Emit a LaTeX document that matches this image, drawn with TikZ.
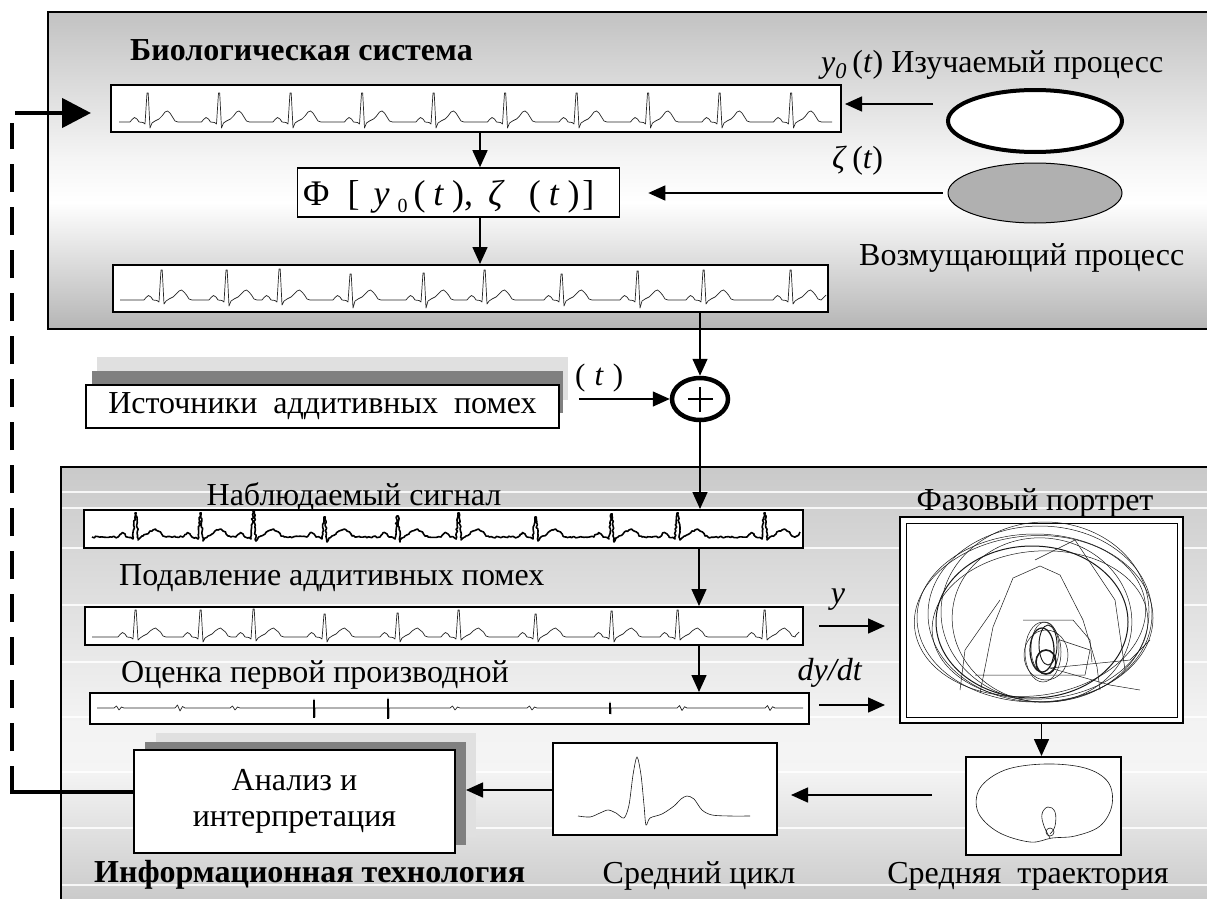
\documentclass[tikz,border=0pt]{standalone}
\usepackage{fontspec}
\setmainfont{Liberation Serif}
\usetikzlibrary{arrows.meta,decorations.pathmorphing,shapes.geometric}

\pgfdeclareverticalshading{topsh}{100bp}{color(0bp)=(black!29); color(25bp)=(black!29); color(45bp)=(white); color(52bp)=(white!96!black); color(75bp)=(black!24); color(100bp)=(black!24)}
\pgfdeclareverticalshading{botsh}{100bp}{color(0bp)=(black!22); color(25bp)=(black!22); color(41bp)=(black!4); color(47bp)=(black!5); color(75bp)=(black!21); color(100bp)=(black!21)}

% one heart beat: X, baseline B, R height a, S depth s, T height t
\newcommand\ecgbeat[5]{%
 -- ({#1-17},#2) -- ({#1-15},{#2-2.5}) -- ({#1-12.5},{#2-4.5}) -- ({#1-10},{#2-3}) -- ({#1-8},#2) -- ({#1-4},{#2+0.5}) -- ({#1-2},{#2+2}) -- (#1,{#2-#3}) -- ({#1+1.2},{#2-#3}) -- ({#1+3},{#2+#4}) -- ({#1+5},{#2+1}) -- ({#1+8},{#2-1}) -- ({#1+12},{#2-3}) -- ({#1+15},{#2-6}) -- ({#1+18},{#2-#5+1}) -- ({#1+20.5},{#2-#5}) -- ({#1+23},{#2-#5+2}) -- ({#1+25.5},{#2-5}) -- ({#1+28},{#2-1}) -- ({#1+31},#2)}
\newcommand\ecgwig[3]{%
 -- ({#1-5},#2) -- ({#1-2.5},{#2-#3}) -- (#1,{#2+#3}) -- ({#1+2.5},{#2-#3/2}) -- ({#1+5},#2)}
\newcommand\ecgspk[3]{%
 -- (#1,#2) -- (#1,{#2-#3}) -- ({#1+1},{#2+#3}) -- ({#1+1},#2)}

\tikzset{
 strip/.style={draw=black, line width=2pt, fill=white, inner sep=0pt},
 ecg/.style={line width=0.7pt, black!85, line join=round},
 conn/.style={line width=1.5pt, -{Triangle[length=17pt,width=15pt]}},
 lbl/.style={inner sep=0pt, font=\fontsize{32}{36}\selectfont},
 blbl/.style={inner sep=0pt, font=\fontsize{32}{36}\selectfont\bfseries},
 fb/.style={line width=4.5pt, black},
 pp/.style={line width=0.5pt, black!90},
 shad1/.style={fill=black!12},
 shad2/.style={fill=black!50},
 band/.style={white, line width=1.2pt, opacity=0.85}
}

\begin{document}
\begin{tikzpicture}[x=1pt, y=-1pt]
\useasboundingbox (0,0) rectangle (1207,899);
\clip (0,0) rectangle (1207,899);
\fill[white] (0,0) rectangle (1207,899);

% ---------- panels ----------
\path[shading=topsh, draw=black, line width=1.6pt] (48,12) rectangle (1215,329);
\path[shading=botsh, draw=black, line width=1.6pt] (61,467) rectangle (1215,910);
\foreach \yy in {492,508,548,605,662,717,772,828,885}
  \draw[band] (62,\yy) -- (1207,\yy);

% ---------- top panel ----------
\node[blbl, anchor=base west] (t1) at (130,60) {Биологическая система};
\node[strip, minimum width=730pt, minimum height=47pt] (s1) at (476,108.5) {};
\draw[ecg] (119,122)
  \ecgbeat{147}{122}{29}{6}{11} \ecgbeat{218.5}{122}{29}{6}{11}
  \ecgbeat{290}{122}{29}{6}{11} \ecgbeat{361.5}{122}{29}{6}{11}
  \ecgbeat{433}{122}{29}{6}{11} \ecgbeat{504.5}{122}{29}{6}{11}
  \ecgbeat{576}{122}{29}{6}{11} \ecgbeat{647.5}{122}{29}{6}{11}
  \ecgbeat{719}{122}{29}{6}{11} \ecgbeat{790.5}{122}{29}{6}{11} -- (832,122);

\node[strip, line width=1.6pt, minimum width=322pt, minimum height=49pt] (f) at (458.5,192.5) {};
\node[inner sep=0pt, font=\fontsize{36}{40}\selectfont, anchor=base west] (ftxt) at (303,205)
  {Φ\hspace{18pt}[\hspace{14pt}\textit{y}\hspace{8pt}\raisebox{-7pt}{\fontsize{20}{20}\selectfont 0}\hspace{6pt}(\hspace{8pt}\textit{t}\hspace{8pt}),\hspace{15pt}\textit{ζ}\hspace{24pt}(\hspace{8pt}\textit{t}\hspace{8pt})\hspace{3pt}]};

\node[strip, minimum width=715pt, minimum height=47pt] (s2) at (470.5,288.5) {};
\draw[ecg] (120,300)
  \ecgbeat{161}{300}{30}{4}{10} \ecgbeat{226}{300}{30}{6}{10}
  \ecgbeat{279}{300}{31}{5}{10} \ecgbeat{350}{300}{26}{8}{10}
  \ecgbeat{423}{300}{27}{8}{10} \ecgbeat{484}{300}{30}{4}{10}
  \ecgbeat{561}{300}{26}{6}{10} \ecgbeat{637}{300}{29}{8}{10}
  \ecgbeat{703}{300}{30}{4}{10} \ecgbeat{790}{300}{30}{4}{10} -- (823,298) -- (826,295);

\node[ellipse, draw=black, line width=4pt, fill=white, minimum width=174pt, minimum height=62pt, inner sep=0pt] (e1) at (1035,121) {};
\node[ellipse, draw=black, line width=1pt, fill=black!31, minimum width=174pt, minimum height=60pt, inner sep=0pt] (e2) at (1035,193) {};

\node[lbl, anchor=base west] (ly0) at (821,72) {\textit{y}\textsubscript{\textit{0}}\,(\textit{t}) Изучаемый процесс};
\node[lbl, anchor=base west] (lzeta) at (832,168) {\textit{ζ}\,(\textit{t})};
\node[lbl, anchor=base west] (lvoz) at (859,265) {Возмущающий процесс};

\draw[conn] (e1.west |- 0,104) ++(-13,0) coordinate (a1s) -- ([xshift=3pt]s1.east |- a1s);
\draw[conn, shorten <=5pt] (e2.west) -- ([xshift=28pt]f.east |- e2.west);
\draw[conn] (480,0 |- s1.south) -- (480,0 |- f.north);
\draw[conn] (480,0 |- f.south) -- (480,0 |- s2.north);

% ---------- noise sources ----------
\fill[shad1] (97,357) rectangle (568,400);
\fill[shad2] (92,371) rectangle (563,413);
\node[strip, line width=1.6pt, minimum width=473pt, minimum height=43pt, lbl] (src) at (322.5,406.5) {Источники\ \ аддитивных\ \ помех};
\node[ellipse, draw=black, line width=4.5pt, fill=white, minimum width=56pt, minimum height=42pt, inner sep=0pt] (ad) at (700,399) {};
\draw[line width=1.8pt] ([xshift=-12pt]ad.center) -- ([xshift=13pt]ad.center);
\draw[line width=1.8pt] ([yshift=12pt]ad.center) -- ([yshift=-13pt]ad.center);
\node[inner sep=0pt, font=\fontsize{31}{34}\selectfont, anchor=base west] (lt) at (575,385) {(\hspace{9pt}\textit{t}\hspace{9pt})};
\draw[conn, shorten <=19pt] (src.east |- ad.west) -- (ad.west);
\draw[conn] (700,0 |- s2.south) -- (ad.north);

% ---------- bottom panel ----------
\node[lbl, anchor=base] (lnab) at (354,505) {Наблюдаемый сигнал};
\node[strip, minimum width=719pt, minimum height=38pt] (s3) at (443.5,529) {};
\draw[ecg, line width=1.6pt, black, decorate, decoration={random steps, segment length=2pt, amplitude=0.9pt}] (92,537)
  \ecgbeat{135}{537}{24}{3}{8} \ecgbeat{200}{537}{24}{4}{8}
  \ecgbeat{253}{537}{26}{4}{8} \ecgbeat{324}{537}{20}{5}{8}
  \ecgbeat{397}{537}{21}{5}{8} \ecgbeat{458}{537}{24}{3}{8}
  \ecgbeat{535}{537}{20}{4}{8} \ecgbeat{611}{537}{23}{5}{8}
  \ecgbeat{677}{537}{24}{3}{8} \ecgbeat{764}{537}{24}{3}{8} -- (797,536) -- (800,532);
\draw[conn] (ad.south) -- (ad.south |- s3.north);

\node[lbl, anchor=base west] (lpod) at (119,585) {Подавление аддитивных помех};
\node[strip, minimum width=718pt, minimum height=38pt] (s4) at (444,626) {};
\draw[ecg] (92,637)
  \ecgbeat{135}{637}{27}{3}{9} \ecgbeat{200}{637}{27}{5}{9}
  \ecgbeat{253}{637}{28}{4}{9} \ecgbeat{324}{637}{23}{5}{9}
  \ecgbeat{397}{637}{24}{5}{9} \ecgbeat{458}{637}{27}{3}{9}
  \ecgbeat{535}{637}{23}{5}{9} \ecgbeat{611}{637}{26}{5}{9}
  \ecgbeat{677}{637}{27}{3}{9} \ecgbeat{764}{637}{27}{3}{9} -- (796,635) -- (799,632);
\draw[conn] (699,0 |- s3.south) -- (699,0 |- s4.north);

\node[lbl, anchor=base west] (locen) at (121,682) {Оценка первой производной};
\node[strip, minimum width=719pt, minimum height=31pt] (s5) at (449.5,708.5) {};
\draw[ecg, line width=0.7pt] (97,708)
  \ecgwig{119}{708}{2} \ecgwig{180}{708}{3} \ecgwig{235}{708}{2}
  \ecgspk{314}{708}{9} \ecgspk{388}{708}{10} \ecgwig{455}{708}{2}
  \ecgwig{532}{708}{2} \ecgspk{610}{708}{6} \ecgwig{682}{708}{2.5}
  \ecgwig{770}{708}{2.5} -- (803,708);
\draw[line width=2pt] (314,700) -- (314,718) (388,699) -- (388,719) (610,703) -- (610,714);
\draw[conn] (699,0 |- s4.south) -- (699,0 |- s5.north);

% phase portrait
\node[lbl, anchor=base] (lph) at (1035,510) {Фазовый портрет};
\node[strip, minimum width=283pt, minimum height=206pt] (ph) at (1041.5,620) {};
\draw[line width=0.8pt] (906,523) rectangle (1177,717);
\begin{scope}
\draw[pp] (1035,618) ellipse[x radius=118, y radius=84];
\draw[pp] (1040,614) ellipse[x radius=112, y radius=88];
\draw[pp, line width=1pt] (1032,622) ellipse[x radius=96, y radius=76];
\draw[pp] (1045,612) ellipse[x radius=104, y radius=90];
\draw[pp, rotate around={6:(1030,616)}] (1030,616) ellipse[x radius=116, y radius=80];
\draw[pp, rotate around={-8:(1042,620)}] (1042,620) ellipse[x radius=90, y radius=82];
\draw[pp, rotate around={4:(1040,625)}] (1040,625) ellipse[x radius=108, y radius=74];
\draw[pp] (1045,648) ellipse[x radius=14, y radius=26];
\draw[pp] (1043,652) ellipse[x radius=18, y radius=30];
\draw[pp, line width=0.9pt] (1048,645) ellipse[x radius=9, y radius=20];
\draw[pp] (1046,655) ellipse[x radius=22, y radius=25];
\draw[pp, line width=1.6pt] (1046,662) ellipse[x radius=10, y radius=12];
\draw[pp, line width=1.2pt] (1042,650) ellipse[x radius=12, y radius=22];
\draw[pp] (980,693) -- (993,627) -- (1013,578) -- (1040,566) -- (1060,575) -- (1083,620) -- (1097,667) -- (1100,690);
\draw[pp] (975,675) -- (1085,675) -- (1090,650) -- (1060,640);
\draw[pp] (1023,620) -- (1073,620) -- (1090,640) -- (1092,662);
\draw[pp] (1050,668) -- (1110,685) -- (1140,690);
\draw[pp] (1050,668) -- (1130,660) -- (1150,640);
\draw[pp] (1035,560) -- (1075,540) -- (1115,600) -- (1125,670);
\draw[pp] (960,690) -- (965,650) -- (1000,600);
\end{scope}
\draw[conn] (819,0 |- s4.east) coordinate (ya) -- (885,0 |- ya);
\draw[conn] (819,705) coordinate (da) -- (885,705);
\node[lbl, anchor=base] (ly) at (838,603) {\textit{y}};
\node[lbl, anchor=base] (ldy) at (830,680) {\textit{dy/dt}};

% average trajectory
\node[strip, minimum width=155pt, minimum height=98pt] (tr) at (1043.5,806) {};
\draw[pp, line width=0.6pt] plot[smooth cycle, tension=0.6] coordinates {(1052,838) (1075,836) (1100,826) (1112,805) (1108,782) (1085,768) (1045,764) (1005,770) (980,788) (978,812) (998,832) (1030,842)};
\draw[pp, line width=0.6pt] plot[smooth, tension=0.7] coordinates {(1050,838) (1044,826) (1042,814) (1048,807) (1055,812) (1055,826) (1050,834)};
\draw[pp, line width=0.6pt] (1050,832) circle[radius=4];
\draw[conn] (ph.south) -- (ph.south |- tr.north);
\node[lbl, anchor=base] (ltr) at (1028,883) {Средняя\ \ траектория};

% average cycle
\node[strip, minimum width=224pt, minimum height=92pt] (cy) at (665,789) {};
\draw[pp, line width=0.6pt] plot[smooth, tension=0.5] coordinates {(578,816) (590,817) (600,813) (608,810) (616,813) (624,818) (629,805) (633,775) (637,757) (641,775) (644,805) (646,825) (650,818) (662,814) (674,806) (681,799) (687,796) (694,799) (702,810) (712,815) (730,816) (750,816)};
\node[lbl, anchor=base] (lcy) at (699,883) {Средний цикл};
\draw[conn, shorten <=33pt, shorten >=13pt] (tr.west |- 0,795) -- (cy.east |- 0,795);

% analysis
\fill[shad1] (156,733) rectangle (476,837);
\fill[shad2] (145,742) rectangle (466,845);
\node[strip, minimum width=321pt, minimum height=103pt, lbl, align=center] (an) at (294.5,801.5) {Анализ и\\интерпретация};
\draw[conn, shorten >=10pt] (cy.west |- 0,790) -- (an.east |- 0,790);
\node[blbl, anchor=base west] (t2) at (94,882) {Информационная технология};

% feedback
\draw[fb] (an.west |- 0,792) -- (10,792);
\draw[fb, dash pattern=on 28pt off 15pt] (12,794) -- (12,123);
\draw[fb, -{Triangle[length=29pt,width=29pt]}, shorten >=19pt] (15,113) -- (s1.west |- 0,113);
\end{tikzpicture}
\end{document}
